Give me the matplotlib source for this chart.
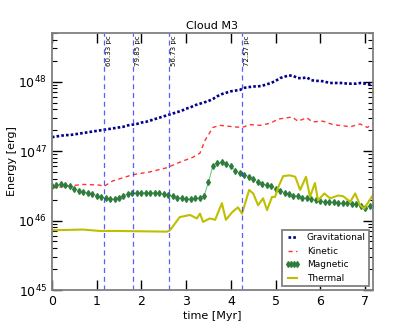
import numpy as np
import matplotlib.pyplot as plt
from matplotlib.ticker import LogLocator, NullFormatter

# log10 of the energies [erg]
t_grav = [0.0, 0.1, 0.2, 0.3, 0.4, 0.5, 0.6, 0.7, 0.8, 0.9, 1.0, 1.1, 1.2, 1.3, 1.4, 1.5,
          1.6, 1.7, 1.8, 1.9, 2.0, 2.1, 2.2, 2.3, 2.4, 2.5, 2.6, 2.7, 2.8, 2.9, 3.0, 3.1,
          3.2, 3.3, 3.4, 3.5, 3.6, 3.7, 3.8, 3.9, 4.0, 4.1, 4.2, 4.3, 4.4, 4.5, 4.6, 4.7,
          4.8, 4.9, 5.0, 5.1, 5.2, 5.3, 5.4, 5.5, 5.6, 5.7, 5.8, 5.9, 6.0, 6.1, 6.2, 6.3,
          6.4, 6.5, 6.6, 6.7, 6.8, 6.9, 7.0, 7.1, 7.2]
log_grav = [47.20, 47.21, 47.22, 47.23, 47.23, 47.24, 47.25, 47.26, 47.27, 47.28, 47.29,
            47.30, 47.31, 47.32, 47.33, 47.34, 47.35, 47.37, 47.38, 47.39, 47.41, 47.42,
            47.44, 47.46, 47.48, 47.50, 47.52, 47.54, 47.56, 47.58, 47.61, 47.63, 47.66,
            47.68, 47.70, 47.72, 47.75, 47.79, 47.82, 47.84, 47.86, 47.87, 47.88, 47.91,
            47.92, 47.93, 47.93, 47.94, 47.96, 47.98, 48.01, 48.05, 48.07, 48.09, 48.08,
            48.05, 48.05, 48.06, 48.02, 48.01, 48.01, 48.00, 47.98, 47.98, 47.98, 47.98,
            47.97, 47.97, 47.97, 47.98, 47.97, 47.96, 47.99]

t_kin = [0.0, 0.7, 1.07, 1.16, 1.36, 1.81, 2.19, 2.57, 2.86, 3.15, 3.31, 3.42, 3.60,
         3.76, 4.05, 4.25, 4.43, 4.65, 4.88, 5.06, 5.37, 5.50, 5.70, 5.82, 6.06, 6.29,
         6.67, 6.89, 7.05, 7.2]
log_kin = [46.47, 46.52, 46.51, 46.49, 46.57, 46.66, 46.70, 46.76, 46.84, 46.91, 46.97,
           47.15, 47.34, 47.37, 47.35, 47.34, 47.38, 47.37, 47.40, 47.46, 47.49, 47.43,
           47.48, 47.42, 47.43, 47.38, 47.35, 47.39, 47.34, 47.40]

t_mag = t_grav
log_mag = [46.49, 46.51, 46.52, 46.51, 46.49, 46.46, 46.43, 46.41, 46.40, 46.38, 46.36,
           46.34, 46.32, 46.31, 46.31, 46.33, 46.36, 46.38, 46.39, 46.40, 46.40, 46.40,
           46.40, 46.40, 46.39, 46.38, 46.37, 46.35, 46.33, 46.32, 46.31, 46.31, 46.32,
           46.33, 46.35, 46.55, 46.79, 46.83, 46.84, 46.82, 46.78, 46.72, 46.68, 46.66,
           46.63, 46.60, 46.55, 46.53, 46.51, 46.49, 46.46, 46.43, 46.40, 46.38, 46.36,
           46.35, 46.33, 46.32, 46.31, 46.29, 46.28, 46.27, 46.27, 46.26, 46.25, 46.25,
           46.25, 46.24, 46.24, 46.21, 46.18, 46.21, 46.23]

t_th = [0.0, 0.7, 1.07, 1.45, 2.57, 2.64, 2.86, 3.09, 3.24, 3.31, 3.38, 3.53, 3.65,
        3.80, 3.89, 4.03, 4.16, 4.25, 4.41, 4.50, 4.61, 4.72, 4.81, 4.92, 4.99, 5.06,
        5.17, 5.32, 5.44, 5.55, 5.68, 5.77, 5.88, 5.95, 6.09, 6.22, 6.40, 6.51, 6.67,
        6.78, 6.89, 6.98, 7.2]
log_th = [45.86, 45.87, 45.85, 45.85, 45.84, 45.86, 46.05, 46.08, 46.03, 46.10, 45.98,
          46.03, 46.01, 46.25, 46.01, 46.12, 46.19, 46.10, 46.44, 46.39, 46.22, 46.32,
          46.15, 46.34, 46.34, 46.48, 46.64, 46.65, 46.63, 46.44, 46.63, 46.34, 46.54,
          46.29, 46.39, 46.32, 46.36, 46.35, 46.27, 46.39, 46.22, 46.17, 46.39]

# times of the vertical markers and their labels
t_marks = [1.16, 1.81, 2.62, 4.25]
mark_labels = ['60.33 pc', '79.85 pc', '56.73 pc', '72.57 pc']

fig = plt.figure(figsize=(4.15, 3.32), dpi=100)
ax = fig.add_axes([0.125, 0.1265, 0.774, 0.774])

ax.plot(t_grav, 10**np.array(log_grav), color='#00008b', ls=':', lw=1.9,
        dashes=(1, 0.8), label='Gravitational')
ax.plot(t_kin, 10**np.array(log_kin), color='r', ls='--', lw=1.0, alpha=0.8,
        dashes=(3, 2.5), label='Kinetic')
ax.plot(t_mag, 10**np.array(log_mag), color='#66c27a', lw=0.7, marker='d', ms=3,
        mfc='#2e7d3c', mec='#2e7d3c', label='Magnetic')
ax.plot(t_th, 10**np.array(log_th), color='#bfbf00', lw=1.5, label='Thermal')

for tm, lab in zip(t_marks, mark_labels):
    ax.axvline(tm, color='#3333ff', ls='--', lw=0.9, dashes=(4, 3), alpha=0.8)
    ax.text(tm + 0.05, 4.6e48, lab, rotation=90, va='top', ha='left', fontsize=5)

ax.set_yscale('log')
ax.set_xlim(0, 7.18)
ax.set_ylim(1e45, 5e48)
ax.set_xticks(range(8))
ax.yaxis.set_minor_locator(LogLocator(base=10, subs=np.arange(2, 10)))
ax.yaxis.set_minor_formatter(NullFormatter())
ax.tick_params(which='both', direction='in', top=True, right=True, labelsize=9)
ax.tick_params(which='major', length=7, width=1)
ax.tick_params(which='minor', length=3.5, width=0.8)
for s in ax.spines.values():
    s.set_color('#808080')
    s.set_linewidth(1.3)

ax.set_xlabel('time [Myr]', fontsize=8, labelpad=2)
ax.set_ylabel('Energy [erg]', fontsize=8, labelpad=1)
ax.set_title('Cloud M3', fontsize=8, pad=3)

leg = ax.legend(loc='lower right', fontsize=6.5, fancybox=False, framealpha=1,
                borderaxespad=0.4, handlelength=1.6, labelspacing=0.5,
                handletextpad=0.8, borderpad=0.4, numpoints=4)
leg.get_frame().set_edgecolor('#808080')
leg.get_frame().set_linewidth(1.3)

fig.savefig('out.png', dpi=100)
